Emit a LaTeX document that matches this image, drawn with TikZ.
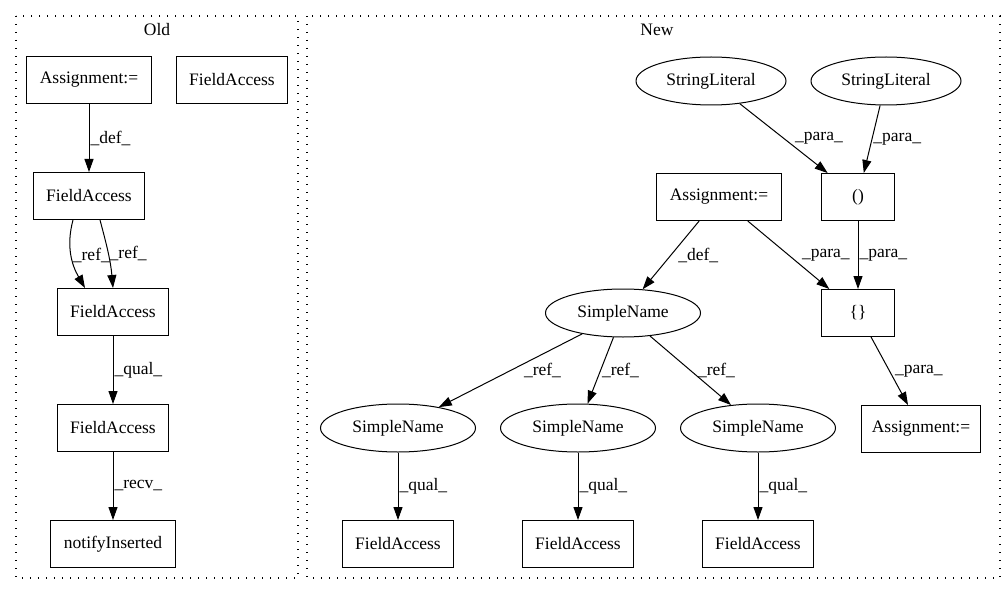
\documentclass[tikz,border=0pt]{standalone}
\usepackage{fontspec}
\setmainfont{Liberation Serif}
\usetikzlibrary{arrows.meta,shapes.geometric}
\begin{document}
\begin{tikzpicture}[x=1pt, y=-1pt,
  font=\fontsize{17.5}{20}\selectfont,
  box/.style={draw, line width=1pt, inner xsep=13pt, minimum height=47pt},
  oval/.style={draw, ellipse, line width=1pt, inner sep=0pt, minimum height=48pt},
  link/.style={draw, line width=1pt, -{Triangle[length=13pt, width=9pt]}},
  lbl/.style={right, inner sep=1pt},
  cluster/.style={draw, line width=1.2pt, dash pattern=on 1.2pt off 6.8pt}]
\useasboundingbox (0,0) rectangle (1008,596);
% clusters
\draw[cluster] (16,16) rectangle (298,578);
\draw[cluster] (307,16) rectangle (1000,578);
\node (oldtitle) at (157,30) {Old};
\node (newtitle) at (657,30) {New};
% old
\node[box] (oassign) at (89,80) {Assignment:=};
\node[box] (ofa0) at (232,80) {FieldAccess};
\node[box] (ofa1) at (89,196) {FieldAccess};
\node[box] (ofa2) at (113,312) {FieldAccess};
\node[box] (ofa3) at (113,428) {FieldAccess};
\node[box] (onotify) at (113,544) {notifyInserted};
\draw[link] (oassign) -- node[lbl] {\_def\_} (ofa1);
\draw[link] ([xshift=-16pt]ofa1.south) to[out=-105, in=120] node[pos=0.5, left, inner sep=1pt, xshift=40pt] {\_ref\_} ([xshift=-28pt]ofa2.north);
\draw[link] ([xshift=11pt]ofa1.south) to[out=-75, in=95] node[lbl] {\_ref\_} (ofa2.north);
\draw[link] (ofa2) -- node[lbl] {\_qual\_} (ofa3);
\draw[link] (ofa3) -- node[lbl] {\_recv\_} (onotify);
% new
\node[oval, minimum width=150pt] (slit1) at (711,81) {StringLiteral};
\node[oval, minimum width=150pt] (slit2) at (886,81) {StringLiteral};
\node[box] (nassign) at (719,197) {Assignment:=};
\node[box, minimum width=73pt] (paren) at (858,197) {()};
\node[oval, minimum width=155pt] (sname) at (623,313) {SimpleName};
\node[box, minimum width=73pt] (brace) at (858,313) {\{\}};
\node[oval, minimum width=155pt] (sname1) at (398,428) {SimpleName};
\node[oval, minimum width=155pt] (sname2) at (578,428) {SimpleName};
\node[oval, minimum width=155pt] (sname3) at (758,428) {SimpleName};
\node[box, inner xsep=10pt] (rassign) at (921,429) {Assignment:=};
\node[box] (nfa1) at (398,544) {FieldAccess};
\node[box] (nfa2) at (578,544) {FieldAccess};
\node[box] (nfa3) at (758,544) {FieldAccess};
\draw[link] (slit1) -- node[lbl, xshift=10pt] {\_para\_} (paren);
\draw[link] (slit2) -- node[lbl] {\_para\_} (paren);
\draw[link] (nassign) -- node[lbl, xshift=6pt] {\_def\_} (sname);
\draw[link] (nassign) -- node[lbl, xshift=12pt] {\_para\_} (brace);
\draw[link] (paren) -- node[lbl] {\_para\_} (brace);
\draw[link] (brace) -- node[lbl, xshift=4pt] {\_para\_} (rassign);
\draw[link] (sname) -- node[lbl, xshift=12pt] {\_ref\_} (sname1);
\draw[link] (sname) -- node[lbl] {\_ref\_} (sname2);
\draw[link] (sname) -- node[lbl, xshift=6pt] {\_ref\_} (sname3);
\draw[link] (sname1) -- node[lbl] {\_qual\_} (nfa1);
\draw[link] (sname2) -- node[lbl] {\_qual\_} (nfa2);
\draw[link] (sname3) -- node[lbl] {\_qual\_} (nfa3);
\end{tikzpicture}
\end{document}
